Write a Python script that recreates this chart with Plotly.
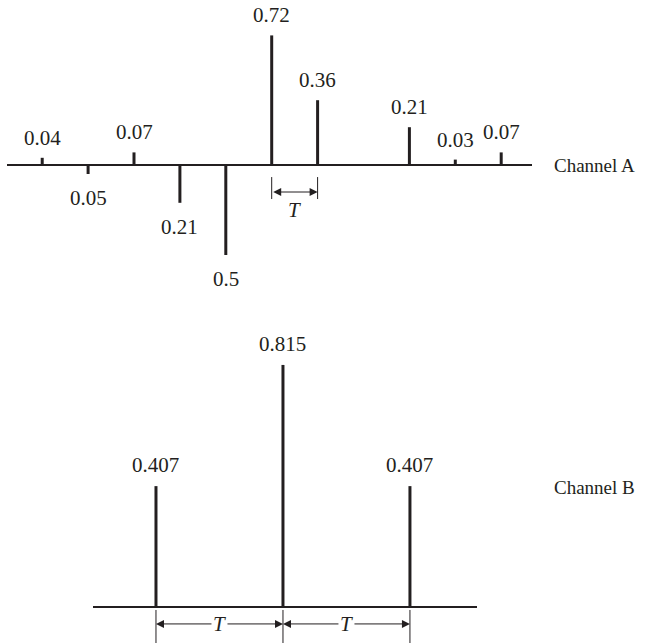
import plotly.graph_objects as go

# Channel A taps, n = sample offset from the 0.72 tap
a_n = [-5, -4, -3, -2, -1, 0, 1, 2, 3, 4, 5]
a_vals = [0.04, -0.05, 0.07, -0.21, -0.5, 0.72, 0.36, 0.0, 0.21, 0.03, 0.07]
a_text = ["0.04", "0.05", "0.07", "0.21", "0.5", "0.72", "0.36", "", "0.21", "0.03", "0.07"]

# Channel B taps
b_n = [-1, 0, 1]
b_vals = [0.407, 0.815, 0.407]
b_text = ["0.407", "0.815", "0.407"]

INK = "#231f20"
FONT = dict(family="Liberation Serif, Times New Roman, serif", size=21, color=INK)
NAME_FONT = dict(FONT, size=19)


def stems(xs, ys):
    sx, sy = [], []
    for x, y in zip(xs, ys):
        if y == 0:
            continue
        sx += [x, x, None]
        sy += [0, y, None]
    return sx, sy


fig = go.Figure()

ax_, ay_ = stems(a_n, a_vals)
fig.add_trace(go.Scatter(x=ax_, y=ay_, mode="lines", line=dict(color=INK, width=3),
                         xaxis="x", yaxis="y", hoverinfo="skip"))
bx_, by_ = stems(b_n, b_vals)
fig.add_trace(go.Scatter(x=bx_, y=by_, mode="lines", line=dict(color=INK, width=3),
                         xaxis="x2", yaxis="y2", hoverinfo="skip"))

annotations = []
for x, v, t in zip(a_n, a_vals, a_text):
    if not t:
        continue
    annotations.append(dict(x=x, y=v, xref="x", yref="y", text=t, showarrow=False,
                            yshift=20 if v > 0 else -24, font=FONT))
for x, v, t in zip(b_n, b_vals, b_text):
    annotations.append(dict(x=x, y=v, xref="x2", yref="y2", text=t, showarrow=False,
                            yshift=21, font=FONT))

annotations.append(dict(x=552 / 646, y=0, xref="paper", yref="y", xanchor="left",
                        text="Channel A", showarrow=False, font=NAME_FONT))
annotations.append(dict(x=552 / 646, y=1 - 500 / 643, xref="paper", yref="paper", xanchor="left",
                        text="Channel B", showarrow=False, font=NAME_FONT))

shapes = []
# T marker under channel A (between tap 0 and tap 1)
for x in [0, 1]:
    shapes.append(dict(type="line", xref="x", yref="y", x0=x, x1=x, y0=-0.067, y1=-0.189,
                       line=dict(color=INK, width=1)))
annotations.append(dict(x=1, y=-0.15, ax=0, ay=-0.15, xref="x", yref="y", axref="x", ayref="y",
                        text="", showarrow=True, arrowside="end+start", arrowhead=2,
                        arrowsize=1.6, arrowwidth=1, arrowcolor=INK))
annotations.append(dict(x=0.5, y=-0.25, xref="x", yref="y", text="<i>T</i>",
                        showarrow=False, font=FONT))

# T markers under channel B
for x in b_n:
    shapes.append(dict(type="line", xref="x2", yref="y2", x0=x, x1=x, y0=-0.010, y1=-0.13,
                       line=dict(color=INK, width=1)))
for left, right in [(b_n[0], b_n[1]), (b_n[1], b_n[2])]:
    mid = (left + right) / 2
    for head, col in [(left, INK), (right, "rgba(0,0,0,0)")]:
        annotations.append(dict(x=head, y=-0.057, ax=mid, ay=-0.057, xref="x2", yref="y2",
                                axref="x2", ayref="y2", text="<i>T</i>", showarrow=True,
                                arrowhead=2, arrowsize=1.6, arrowwidth=1, arrowcolor=INK,
                                font=dict(FONT, color=col), standoff=0))

hidden = dict(showgrid=False, showticklabels=False, showline=False, ticks="", zeroline=False)

fig.update_layout(
    width=646, height=643,
    margin=dict(l=0, r=0, t=0, b=0),
    plot_bgcolor="white", paper_bgcolor="white",
    showlegend=False,
    xaxis=dict(hidden, domain=[7 / 646, 532 / 646], range=[-5.767, 5.671], anchor="y"),
    yaxis=dict(hidden, domain=[1 - 300 / 643, 1], range=[-0.75, 0.9167], anchor="x",
               zeroline=True, zerolinecolor=INK, zerolinewidth=2),
    xaxis2=dict(hidden, domain=[93 / 646, 477 / 646], range=[-1.496, 1.528], anchor="y2"),
    yaxis2=dict(hidden, domain=[0, 323 / 643], range=[-0.1212, 0.9663], anchor="x2",
                zeroline=True, zerolinecolor=INK, zerolinewidth=2),
    annotations=annotations,
    shapes=shapes,
)

# drop the browser's default 8px body margin so the figure sits at the page corner
fig.write_html("out.html", config={"displayModeBar": False},
               post_script="document.body.style.margin='0';")
